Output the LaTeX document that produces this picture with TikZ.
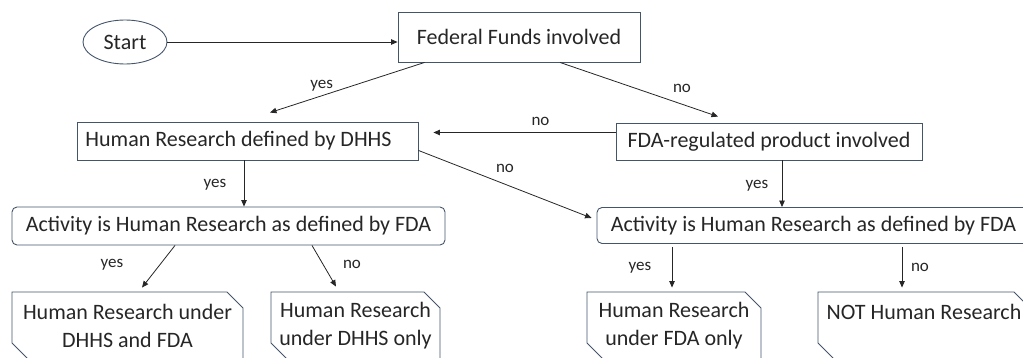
\documentclass[tikz,border=0pt]{standalone}
\usepackage{fontspec}
\setmainfont{Carlito}
\usetikzlibrary{arrows.meta, positioning, shapes.geometric, shapes.misc}
\definecolor{boxline}{HTML}{44546A}
\definecolor{inktext}{HTML}{262626}

\begin{document}
\begin{tikzpicture}[
    x=1pt, y=-1pt,
    font=\fontsize{22}{28}\selectfont, text=inktext,
    startnode/.style={ellipse, draw=boxline, line width=0.9pt, minimum width=84pt,
        minimum height=44pt, inner sep=0pt},
    decision/.style={rectangle, draw=boxline, line width=0.9pt, inner sep=0pt},
    question/.style={rectangle, rounded corners=5pt, draw=boxline, line width=0.9pt,
        inner sep=0pt},
    outcome/.style={chamfered rectangle, chamfered rectangle corners={north east, south west},
        chamfered rectangle xsep=8pt, chamfered rectangle ysep=8pt,
        draw=boxline, line width=0.9pt, inner sep=0pt, align=center,
        minimum height=67pt},
    flow/.style={-{Triangle[length=6.5pt, width=5.5pt]}, line width=0.8pt, color=black!85},
    flab/.style={font=\fontsize{17}{20}\selectfont, inner sep=0pt}
]

\useasboundingbox (0,0) rectangle (1023,358);
\clip (0,0) rectangle (1023,358);

% top row
\node[startnode] (start) at (125,42) {Start};
\node[decision, minimum width=242pt, minimum height=50pt] (fed) at (519,37) {Federal Funds involved};

% questions
\node[decision, minimum width=341pt, minimum height=38pt] (dhhs) at (247.5,141) {Human Research defined by DHHS\kern18pt};
\node[decision, minimum width=306pt, minimum height=37pt] (fda) at (769,141.5) {FDA-regulated product involved};
\node[question, minimum width=433pt, minimum height=38pt] (act1) at (228.5,226) {Activity is Human Research as defined by FDA};
\node[question, minimum width=433pt, minimum height=36pt] (act2) at (813.5,225.5) {Activity is Human Research as defined by FDA};

% outcomes (cut by the lower edge)
\node[outcome, minimum width=231pt] (res1) at (127.5,325.5) {Human Research under\\DHHS and FDA};
\node[outcome, minimum width=169pt] (res2) at (355.5,325.5) {Human Research\\under DHHS only};
\node[outcome, minimum width=174pt] (res3) at (674,325.5) {Human Research\\under FDA only};
\node[outcome, minimum width=212pt] (res4) at (924,325.5) {NOT Human Research\\~};

% flows
\draw[flow] (start.east) -- (start.east -| fed.west);
\draw[flow] ([xshift=27pt]fed.south west) -- node[flab, xshift=-25.5pt, yshift=1.5pt]{yes}
    ([xshift=22.5pt, yshift=9pt]dhhs.north);
\draw[flow] ([xshift=41pt]fed.south) -- node[flab, xshift=43pt, yshift=1.5pt]{no}
    ([xshift=-51pt, yshift=6pt]fda.north);
\draw[flow, shorten >=15pt] ([yshift=9pt]fda.west) -- node[flab, xshift=23.5pt, yshift=11pt]{no}
    ([yshift=9pt]fda.west -| dhhs.east);
\draw[flow] ([yshift=10pt]dhhs.south east) -- node[flab, yshift=16pt]{no}
    ([xshift=-5pt, yshift=7.5pt]act2.west);
\draw[flow] ([xshift=-3.5pt]dhhs.south) -- node[flab, xshift=-29pt, yshift=-1.5pt]{yes}
    ([xshift=-3.5pt]dhhs.south |- act1.north);
\draw[flow] ([xshift=13pt]fda.south) -- node[flab, xshift=-25pt, yshift=-1.5pt]{yes}
    ([xshift=13pt]fda.south |- act2.north);
\draw[flow] ([xshift=-53.5pt]act1.south) -- node[flab, xshift=-46.5pt, yshift=2pt]{yes}
    ([xshift=14.5pt, yshift=4pt]res1.north);
\draw[flow] ([xshift=83.5pt]act1.south) -- node[flab, xshift=28pt, yshift=2pt]{no}
    ([xshift=-19.5pt, yshift=5pt]res2.north);
\draw[flow, shorten >=4pt] ([xshift=-141.5pt, yshift=-3pt]act2.south) -- node[flab, xshift=-32pt, yshift=2pt]{yes}
    ([xshift=-141.5pt]act2.south |- res3.north);
\draw[flow, shorten >=4pt] ([xshift=88.5pt, yshift=-3pt]act2.south) -- node[flab, xshift=18pt, yshift=2pt]{no}
    ([xshift=88.5pt]act2.south |- res4.north);

\end{tikzpicture}
\end{document}
